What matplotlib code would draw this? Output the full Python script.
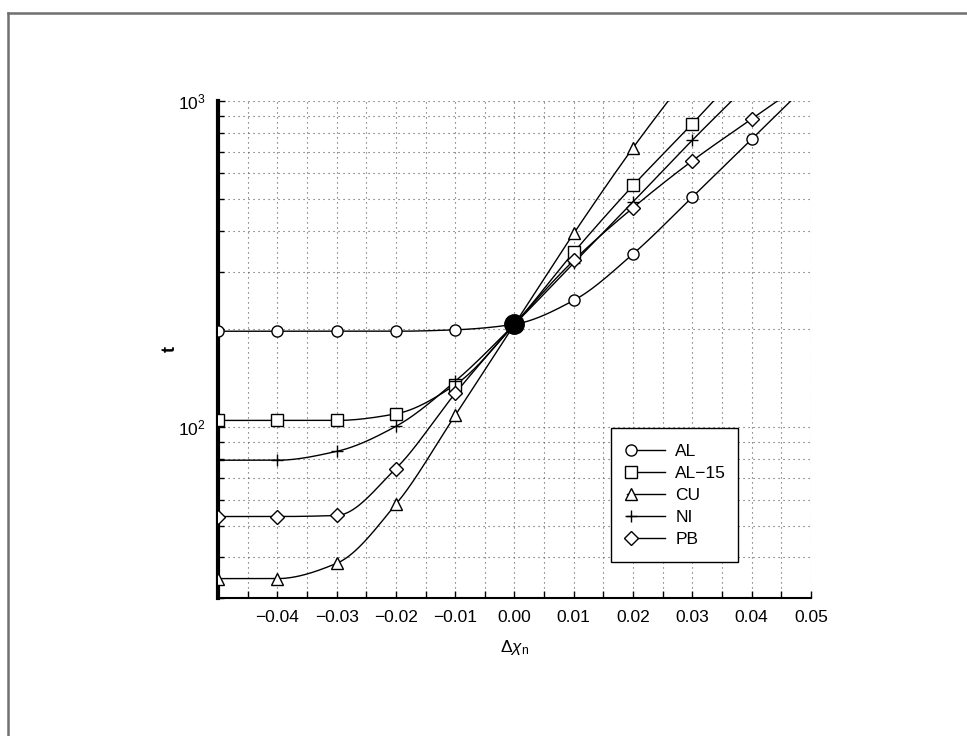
import numpy as np
import matplotlib.pyplot as plt
from matplotlib.lines import Line2D
from matplotlib.legend_handler import HandlerLine2D
from matplotlib.ticker import MultipleLocator, NullFormatter, FuncFormatter

plt.rcParams['font.family'] = ['Liberation Sans', 'DejaVu Sans']
plt.rcParams['mathtext.fontset'] = 'custom'
plt.rcParams['mathtext.rm'] = 'Liberation Sans'
plt.rcParams['mathtext.it'] = 'Liberation Sans:italic'

# data (points above 10^3 are clipped by the axes)
x_al = [-0.05, -0.04, -0.03, -0.02, -0.01, 0.0, 0.01, 0.02, 0.03, 0.04, 0.05]
t_al = [197, 197, 197, 197, 199, 207, 245, 340, 508, 764, 1150]

x_al15 = [-0.05, -0.04, -0.03, -0.02, -0.01, 0.0, 0.01, 0.02, 0.03, 0.04]
t_al15 = [105, 105, 105, 110, 135, 207, 344, 551, 852, 1340]

x_cu = [-0.05, -0.04, -0.03, -0.02, -0.01, 0.0, 0.01, 0.02, 0.03]
t_cu = [34.4, 34.4, 38.3, 58.1, 108.8, 207, 393, 719, 1250]

x_ni = [-0.05, -0.04, -0.03, -0.02, -0.01, 0.0, 0.01, 0.02, 0.03, 0.04]
t_ni = [79.3, 79.3, 84.4, 100.7, 138.4, 207, 319, 491, 759, 1150]

x_pb = [-0.05, -0.04, -0.03, -0.02, -0.01, 0.0, 0.01, 0.02, 0.03, 0.04, 0.05]
t_pb = [53.3, 53.3, 53.7, 74.8, 127, 207, 325, 471, 656, 881, 1180]

names = ['AL', 'AL\u221215', 'CU', 'NI', 'PB']
markers = ['o', 's', '^', '+', 'D']
sizes = [8, 8, 8, 8, 7]
xs = [x_al, x_al15, x_cu, x_ni, x_pb]
ts = [t_al, t_al15, t_cu, t_ni, t_pb]

x0, t0 = 0.0, 207
xticks = [-0.05, -0.04, -0.03, -0.02, -0.01, 0.0, 0.01, 0.02, 0.03, 0.04, 0.05]


def pchip(x, y, xn):
    # monotone cubic used only to draw smooth lines between the points
    x = np.asarray(x, float)
    y = np.asarray(y, float)
    h = np.diff(x)
    d = np.diff(y) / h
    m = np.zeros_like(y)
    for k in range(1, len(x) - 1):
        if d[k - 1] * d[k] > 0:
            w1 = 2 * h[k] + h[k - 1]
            w2 = h[k] + 2 * h[k - 1]
            m[k] = (w1 + w2) / (w1 / d[k - 1] + w2 / d[k])
    m[0] = d[0]
    m[-1] = d[-1]
    idx = np.clip(np.searchsorted(x, xn) - 1, 0, len(x) - 2)
    s = (xn - x[idx]) / h[idx]
    h00 = 2 * s**3 - 3 * s**2 + 1
    h10 = s**3 - 2 * s**2 + s
    h01 = -2 * s**3 + 3 * s**2
    h11 = s**3 - s**2
    return (h00 * y[idx] + h10 * h[idx] * m[idx] + h01 * y[idx + 1]
            + h11 * h[idx] * m[idx + 1])


class MarkerLeft(HandlerLine2D):
    # line with the marker at its left end
    def create_artists(self, legend, orig_handle, xdescent, ydescent,
                       width, height, fontsize, trans):
        y = (height - ydescent) / 2
        line = Line2D([-xdescent, -xdescent + width], [y, y],
                      color='black', lw=1.0)
        mk = Line2D([-xdescent + 3], [y])
        mk.update_from(orig_handle)
        mk.set_linestyle('none')
        line.set_transform(trans)
        mk.set_transform(trans)
        return [line, mk]


fig = plt.figure(figsize=(9.67, 7.36), dpi=100)
ax = fig.add_axes([0.2254, 0.1875, 0.6133, 0.6753])

handles = []
for x, t, mk, size, nm in zip(xs, ts, markers, sizes, names):
    xn = np.linspace(x[0], x[-1], 400)
    yn = 10 ** pchip(x, np.log10(t), xn)
    ax.plot(xn, yn, color='black', lw=1.0, zorder=3)
    keep = [i for i, v in enumerate(x) if v != x0]
    ax.plot([x[i] for i in keep], [t[i] for i in keep], linestyle='none',
            marker=mk, ms=size, mfc='white', mec='black', mew=1.0, zorder=4)
    handles.append(Line2D([], [], color='black', lw=1.0, marker=mk,
                          ms=size, mfc='white', mec='black', mew=1.0,
                          label=nm))

ax.plot([x0], [t0], 'o', color='black', ms=14, zorder=5)

ax.set_yscale('log')
ax.set_xlim(-0.05, 0.05)
ax.set_ylim(30, 1000)
ax.set_xticks(xticks)
ax.xaxis.set_major_formatter(FuncFormatter(
    lambda v, p: '' if v < -0.045 else ('%.2f' % v).replace('-', '\u2212')))
ax.xaxis.set_minor_locator(MultipleLocator(0.005))
ax.yaxis.set_minor_formatter(NullFormatter())

ax.grid(True, which='both', linestyle=(0, (1, 3.5)), color='#555555', lw=0.8)
ax.tick_params(which='both', direction='in', top=False, right=False,
               labelsize=12.5, length=5, width=1, pad=9)
ax.tick_params(axis='y', which='minor', length=4)
for s in ['top', 'right']:
    ax.spines[s].set_visible(False)
ax.spines['left'].set_linewidth(3)
ax.spines['bottom'].set_linewidth(1.5)

ax.set_xlabel(r'$\Delta\chi_{\rm n}$', fontsize=12.5, labelpad=9)
ax.set_ylabel('t', fontsize=13, fontweight='bold', labelpad=-1)

leg = ax.legend(handles=handles, loc='lower left',
                bbox_to_anchor=(0.663, 0.072, 0.214, 0.27), mode='expand',
                borderaxespad=0, fontsize=12.5, fancybox=False, framealpha=1,
                edgecolor='black', handlelength=2.2, handletextpad=0.6,
                labelspacing=0.39, borderpad=0.9,
                handler_map={Line2D: MarkerLeft()})
leg.get_frame().set_linewidth(1.0)
leg.set_zorder(10)

# grey frame round the page
fig.add_artist(Line2D([7.5 / 967, 7.5 / 967], [0, 1 - 12.5 / 736],
                      transform=fig.transFigure, color='#707070', lw=1.8))
fig.add_artist(Line2D([7.5 / 967, 1], [1 - 12.5 / 736, 1 - 12.5 / 736],
                      transform=fig.transFigure, color='#707070', lw=1.8))

fig.savefig('out.png', dpi=100)
